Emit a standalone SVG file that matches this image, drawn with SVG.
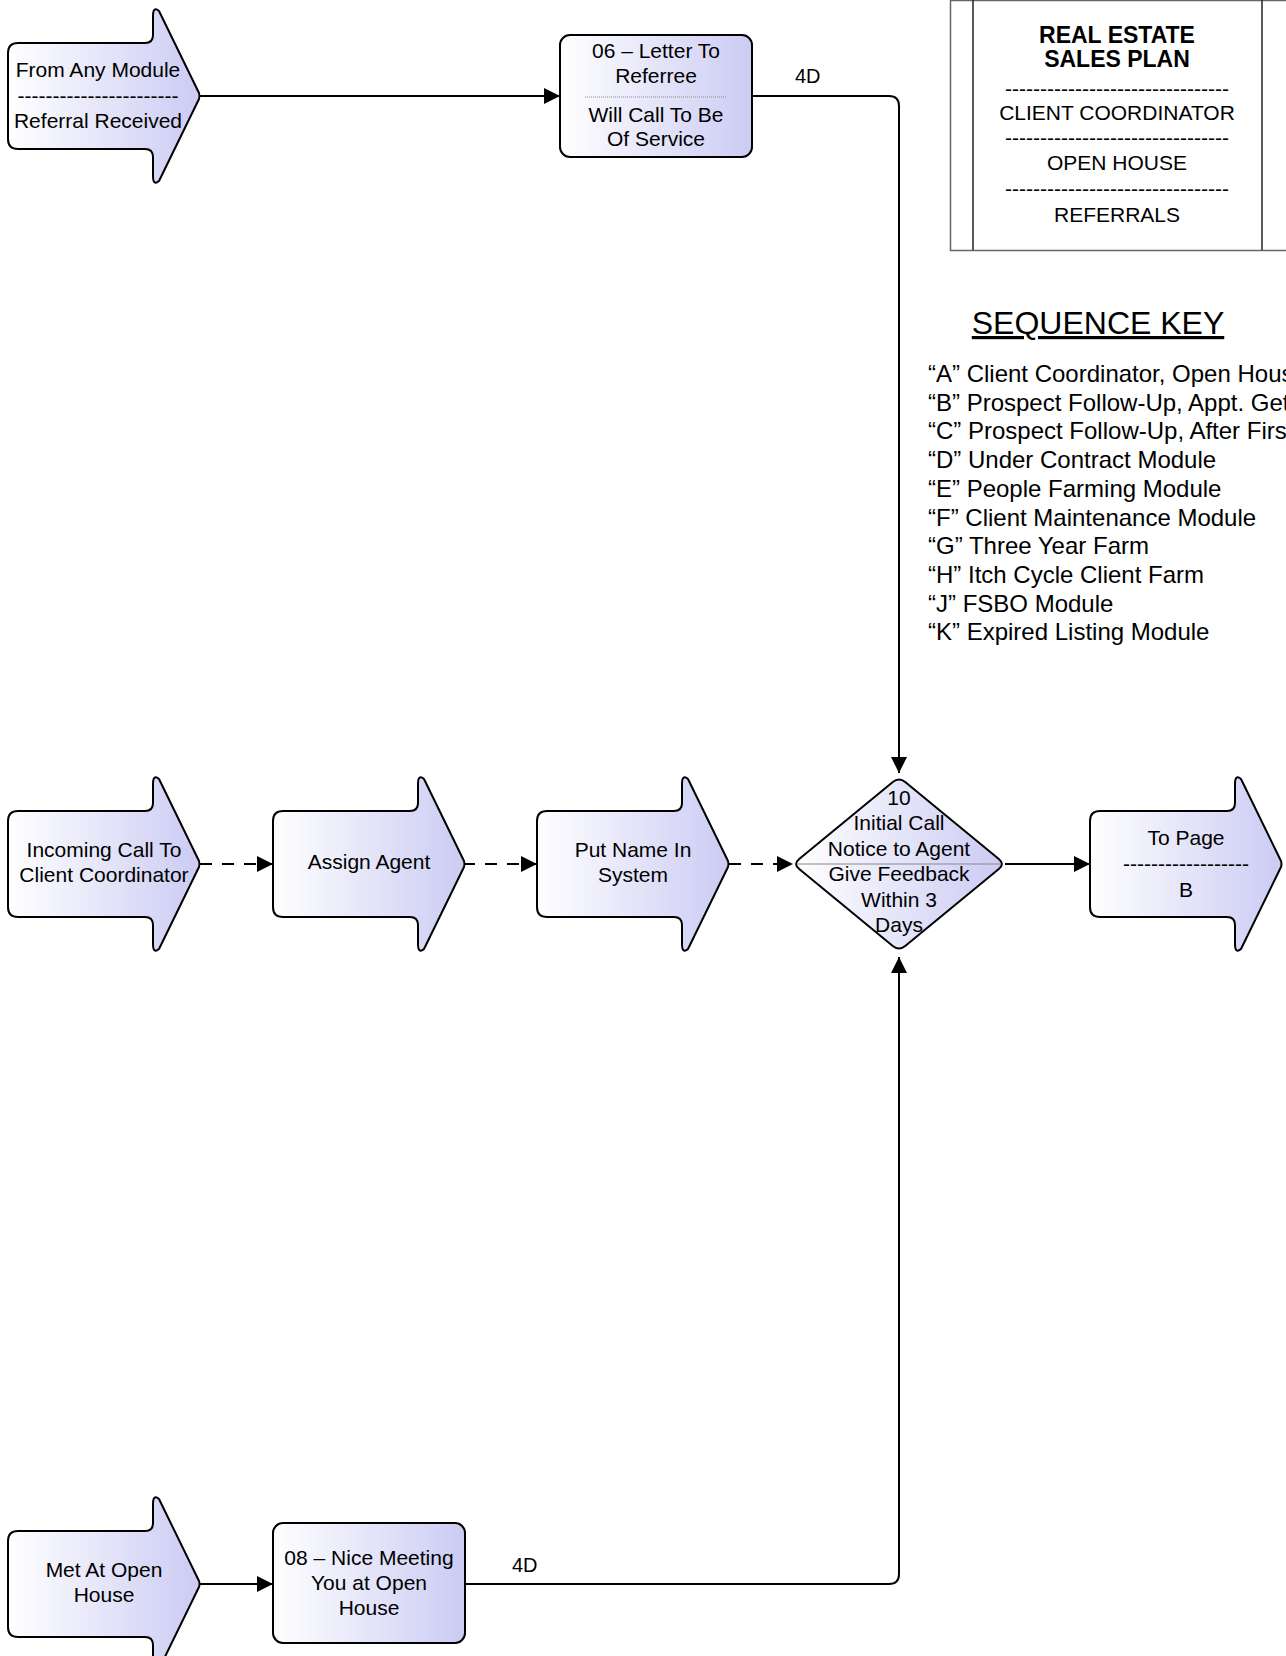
<svg xmlns="http://www.w3.org/2000/svg" xmlns:xlink="http://www.w3.org/1999/xlink" width="1286" height="1656" viewBox="0 0 1286 1656">
<style>
text{font-family:"Liberation Sans",Arial,sans-serif;fill:#000;}
.t{font-size:21px;text-anchor:middle;}
.lbl{font-size:20px;}
.key{font-size:24px;}
.ttl{font-size:23px;font-weight:bold;text-anchor:middle;}
.shape{fill:url(#g);stroke:#000;stroke-width:2;stroke-linejoin:round;}
.conn{fill:none;stroke:#000;stroke-width:2;}
.dash{stroke-dasharray:12 10;}
.sep{stroke:#888;stroke-width:1;}
</style>
<defs>
<linearGradient id="g" x1="0" y1="0" x2="1" y2="0">
<stop offset="0" stop-color="#ffffff"/>
<stop offset="1" stop-color="#cbcbf4"/>
</linearGradient>
<marker id="ah" viewBox="0 0 16 16" refX="16" refY="8" markerWidth="16" markerHeight="16" markerUnits="userSpaceOnUse" orient="auto">
<path d="M0,0 L16,8 L0,16 Z" fill="#000"/>
</marker>
<path id="arr" d="M10,-53 L137,-53 Q145,-53 145,-61 L145,-80 Q145,-90 151,-85 L191,-3 Q192,0 191,3 L151,85 Q145,90 145,80 L145,61 Q145,53 137,53 L10,53 Q0,53 0,43 L0,-43 Q0,-53 10,-53 Z"/>
</defs>
<rect width="1286" height="1656" fill="#fff"/>

<g id="title-box">
<rect x="950.5" y="0.5" width="345" height="250" fill="#fff" stroke="#666" stroke-width="1.5"/>
<line x1="973" y1="0" x2="973" y2="250" stroke="#222" stroke-width="1.5"/>
<line x1="1262" y1="0" x2="1262" y2="250" stroke="#222" stroke-width="1.5"/>
<text class="ttl" x="1117" y="43">REAL ESTATE</text>
<text class="ttl" x="1117" y="67">SALES PLAN</text>
<text class="t" x="1117" y="96">--------------------------------</text>
<text class="t" x="1117" y="120">CLIENT COORDINATOR</text>
<text class="t" x="1117" y="145">--------------------------------</text>
<text class="t" x="1117" y="170">OPEN HOUSE</text>
<text class="t" x="1117" y="196">--------------------------------</text>
<text class="t" x="1117" y="222">REFERRALS</text>
</g>

<g id="sequence-key">
<text x="1098" y="334" style="font-size:32px;text-anchor:middle;text-decoration:underline">SEQUENCE KEY</text>
<text class="key" x="928" y="382">“A” Client Coordinator, Open House</text>
<text class="key" x="928" y="410.7">“B” Prospect Follow-Up, Appt. Get</text>
<text class="key" x="928" y="439.4">“C” Prospect Follow-Up, After First</text>
<text class="key" x="928" y="468.1">“D” Under Contract Module</text>
<text class="key" x="928" y="496.8">“E” People Farming Module</text>
<text class="key" x="928" y="525.5">“F” Client Maintenance Module</text>
<text class="key" x="928" y="554.2">“G” Three Year Farm</text>
<text class="key" x="928" y="582.9">“H” Itch Cycle Client Farm</text>
<text class="key" x="928" y="611.6">“J” FSBO Module</text>
<text class="key" x="928" y="640.3">“K” Expired Listing Module</text>
</g>

<g id="connectors">
<path class="conn" d="M200,96 H560" marker-end="url(#ah)"/>
<path class="conn" d="M752,96 H889 Q899,96 899,106 V773" marker-end="url(#ah)"/>
<path class="conn dash" d="M200,864 H273" marker-end="url(#ah)"/>
<path class="conn dash" d="M463,864 H537" marker-end="url(#ah)"/>
<path class="conn dash" d="M729,864 H793" marker-end="url(#ah)"/>
<path class="conn" d="M1005,864 H1090" marker-end="url(#ah)"/>
<path class="conn" d="M200,1584 H273" marker-end="url(#ah)"/>
<path class="conn" d="M465,1584 H889 Q899,1584 899,1574 V957" marker-end="url(#ah)"/>
<text class="lbl" x="795" y="83">4D</text>
<text class="lbl" x="512" y="1572">4D</text>
</g>

<g id="from-any-module">
<use xlink:href="#arr" href="#arr" class="shape" transform="translate(8,96)"/>
<text class="t" x="98" y="77">From Any Module</text>
<text class="t" x="98" y="103">-----------------------</text>
<text class="t" x="98" y="128">Referral Received</text>
</g>

<g id="letter-to-referree">
<rect class="shape" x="560" y="35" width="192" height="122" rx="10" ry="10"/>
<line class="sep" x1="585" y1="97" x2="727" y2="97" stroke-dasharray="1 1"/>
<text class="t" x="656" y="58">06 – Letter To</text>
<text class="t" x="656" y="83">Referree</text>
<text class="t" x="656" y="122">Will Call To Be</text>
<text class="t" x="656" y="146">Of Service</text>
</g>

<g id="incoming-call">
<use xlink:href="#arr" href="#arr" class="shape" transform="translate(8,864)"/>
<text class="t" x="104" y="857">Incoming Call To</text>
<text class="t" x="104" y="882">Client Coordinator</text>
</g>

<g id="assign-agent">
<use xlink:href="#arr" href="#arr" class="shape" transform="translate(273,864)"/>
<text class="t" x="369" y="869">Assign Agent</text>
</g>

<g id="put-name-in-system">
<use xlink:href="#arr" href="#arr" class="shape" transform="translate(537,864)"/>
<text class="t" x="633" y="857">Put Name In</text>
<text class="t" x="633" y="882">System</text>
</g>

<g id="initial-call">
<path class="shape" d="M905.2,782.1 L998.8,858.9 Q1005,864 998.8,869.1 L905.2,945.9 Q899,951 892.8,945.9 L799.2,869.1 Q793,864 799.2,858.9 L892.8,782.1 Q899,777 905.2,782.1 Z"/>
<line class="sep" x1="798" y1="864" x2="1000" y2="864"/>
<text class="t" x="899" y="805">10</text>
<text class="t" x="899" y="830">Initial Call</text>
<text class="t" x="899" y="856">Notice to Agent</text>
<text class="t" x="899" y="881">Give Feedback</text>
<text class="t" x="899" y="907">Within 3</text>
<text class="t" x="899" y="932">Days</text>
</g>

<g id="to-page-b">
<use xlink:href="#arr" href="#arr" class="shape" transform="translate(1090,864)"/>
<text class="t" x="1186" y="845">To Page</text>
<text class="t" x="1186" y="871">------------------</text>
<text class="t" x="1186" y="897">B</text>
</g>

<g id="met-at-open-house">
<use xlink:href="#arr" href="#arr" class="shape" transform="translate(8,1584)"/>
<text class="t" x="104" y="1577">Met At Open</text>
<text class="t" x="104" y="1602">House</text>
</g>

<g id="nice-meeting">
<rect class="shape" x="273" y="1523" width="192" height="120" rx="10" ry="10"/>
<text class="t" x="369" y="1565">08 – Nice Meeting</text>
<text class="t" x="369" y="1590">You at Open</text>
<text class="t" x="369" y="1615">House</text>
</g>
</svg>
